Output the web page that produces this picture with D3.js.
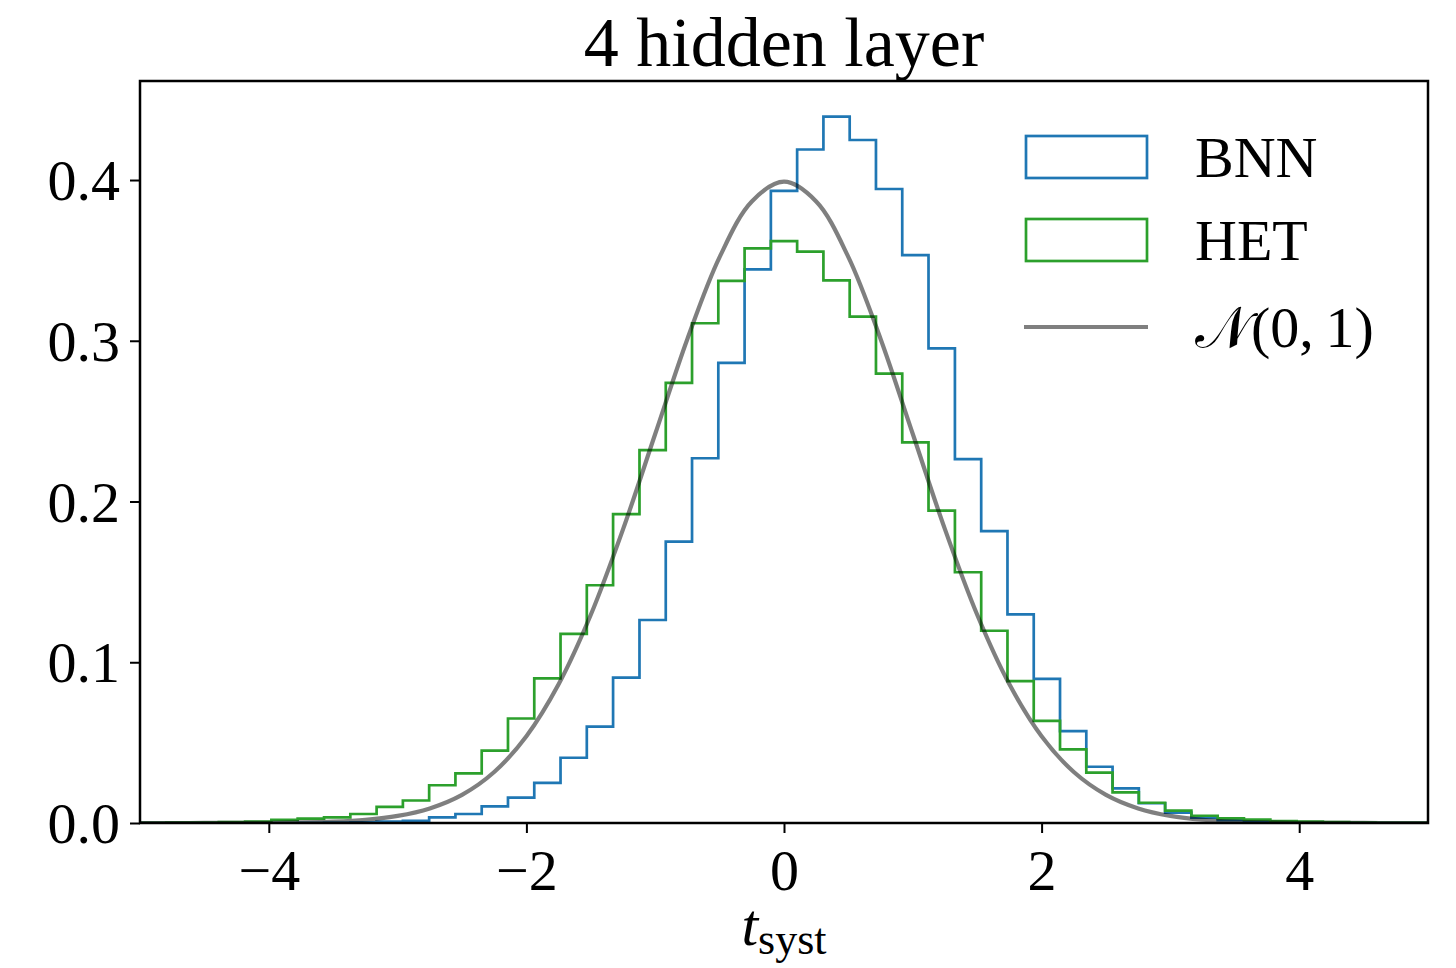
<!DOCTYPE html>
<html>
<head>
<meta charset="utf-8">
<script src="https://cdn.jsdelivr.net/npm/d3@7"></script>
<style>
  body { margin: 0; background: #fff; }
  svg text { font-family: "Liberation Serif", "DejaVu Serif", serif; fill: #000; }
</style>
</head>
<body>
<div id="chart"></div>
<script>
// bin edges of both histograms (49 bins over -5..5)
var binEdges = [-5.000, -4.796, -4.592, -4.388, -4.184, -3.980, -3.776, -3.571, -3.367, -3.163,
    -2.959, -2.755, -2.551, -2.347, -2.143, -1.939, -1.735, -1.531, -1.327, -1.122,
    -0.918, -0.714, -0.510, -0.306, -0.102, 0.102, 0.306, 0.510, 0.714, 0.918,
    1.122, 1.327, 1.531, 1.735, 1.939, 2.143, 2.347, 2.551, 2.755, 2.959,
    3.163, 3.367, 3.571, 3.776, 3.980, 4.184, 4.388, 4.592, 4.796, 5.000];

// density per bin
var bnnValues = [0, 0, 0, 0, 0, 0, 0.0001, 0.0002, 0.0004, 0.0008,
    0.0014, 0.0035, 0.0056, 0.0104, 0.0158, 0.0249, 0.0406, 0.0599, 0.0904, 0.1263,
    0.1750, 0.2269, 0.2863, 0.3444, 0.3933, 0.4190, 0.4394, 0.4249, 0.3944, 0.3533,
    0.2953, 0.2264, 0.1816, 0.1298, 0.0896, 0.0572, 0.0350, 0.0216, 0.0123, 0.0064,
    0.0033, 0.0018, 0.0010, 0.0005, 0.0002, 0.0001, 0, 0, 0];

var hetValues = [0.0001, 0.0002, 0.0003, 0.0005, 0.0008, 0.0019, 0.0027, 0.0035, 0.0056, 0.0100,
    0.0140, 0.0235, 0.0309, 0.0450, 0.0650, 0.0900, 0.1176, 0.1479, 0.1922, 0.2320,
    0.2738, 0.3109, 0.3372, 0.3575, 0.3620, 0.3554, 0.3376, 0.3150, 0.2795, 0.2368,
    0.1943, 0.1560, 0.1196, 0.0883, 0.0635, 0.0458, 0.0313, 0.0191, 0.0126, 0.0077,
    0.0045, 0.0029, 0.0021, 0.0012, 0.0008, 0.0005, 0.0002, 0.0001, 0.0001];

// N(0,1) reference curve
var normX = [-5, -4.75, -4.5, -4.25, -4, -3.75, -3.5, -3.25, -3, -2.75,
    -2.5, -2.25, -2, -1.75, -1.5, -1.25, -1, -0.75, -0.5, -0.25,
    0, 0.25, 0.5, 0.75, 1, 1.25, 1.5, 1.75, 2, 2.25,
    2.5, 2.75, 3, 3.25, 3.5, 3.75, 4, 4.25, 4.5, 4.75, 5];
var normY = [0, 0, 0.00002, 0.00005, 0.00013, 0.00035, 0.00087, 0.00203, 0.00443, 0.00909,
    0.01753, 0.03174, 0.05399, 0.08628, 0.12952, 0.18265, 0.24197, 0.30114, 0.35207, 0.38667,
    0.39894, 0.38667, 0.35207, 0.30114, 0.24197, 0.18265, 0.12952, 0.08628, 0.05399, 0.03174,
    0.01753, 0.00909, 0.00443, 0.00203, 0.00087, 0.00035, 0.00013, 0.00005, 0.00002, 0, 0];

var xTicks = [-4, -2, 0, 2, 4];
var yTicks = [0.0, 0.1, 0.2, 0.3, 0.4];

var legendLabels = ["BNN", "HET", "\u{1D4A9}(0,\u20091)"];

var svgWidth = 1456;
var svgHeight = 968;

var margin = { top: 81, right: 28, bottom: 145, left: 140 };
var width = svgWidth - margin.left - margin.right;
var height = svgHeight - margin.top - margin.bottom;

var svg = d3.select("#chart")
    .append("svg")
    .attr("width", svgWidth)
    .attr("height", svgHeight);

var chartGroup = svg.append("g")
    .attr("transform", `translate(${margin.left}, ${margin.top})`);

var xScale = d3.scaleLinear().domain([-5, 5]).range([0, width]);
var yScale = d3.scaleLinear().domain([0, 0.4616]).range([height, 0]);

svg.append("clipPath").attr("id", "plotclip")
    .append("rect").attr("width", width).attr("height", height);

// step outline like histtype='step'
function stepPath(values) {
    var pts = [[binEdges[0], 0]];
    values.forEach(function (v, i) {
        pts.push([binEdges[i], v]);
        pts.push([binEdges[i + 1], v]);
    });
    pts.push([binEdges[binEdges.length - 1], 0]);
    return d3.line()
        .x(d => xScale(d[0]))
        .y(d => yScale(d[1]))(pts);
}

var plot = chartGroup.append("g").attr("clip-path", "url(#plotclip)");

plot.append("path")
    .attr("d", stepPath(bnnValues))
    .attr("fill", "none")
    .attr("stroke", "#1f77b4")
    .attr("stroke-width", 2.7);

plot.append("path")
    .attr("d", stepPath(hetValues))
    .attr("fill", "none")
    .attr("stroke", "#2ca02c")
    .attr("stroke-width", 2.7);

var normLine = d3.line()
    .x((d, i) => xScale(normX[i]))
    .y(d => yScale(d))
    .curve(d3.curveCatmullRom);

plot.append("path")
    .attr("d", normLine(normY))
    .attr("fill", "none")
    .attr("stroke", "#000")
    .attr("stroke-opacity", 0.5)
    .attr("stroke-width", 4.2);

// axes
var bottomAxis = d3.axisBottom(xScale)
    .tickValues(xTicks)
    .tickSize(10)
    .tickPadding(8)
    .tickFormat(d => d < 0 ? "\u2212" + Math.abs(d) : d);

var leftAxis = d3.axisLeft(yScale)
    .tickValues(yTicks)
    .tickSize(10)
    .tickPadding(10)
    .tickFormat(d3.format(".1f"));

var xAxis = chartGroup.append("g")
    .attr("transform", `translate(0, ${height})`)
    .call(bottomAxis);

var yAxis = chartGroup.append("g")
    .call(leftAxis);

[xAxis, yAxis].forEach(function (ax) {
    ax.select(".domain").remove();
    ax.selectAll(".tick line").attr("stroke", "#000").attr("stroke-width", 2);
    ax.selectAll(".tick text")
        .style("font-family", "Liberation Serif, serif")
        .style("font-size", "58px");
});
xAxis.selectAll(".tick text").attr("dy", "0.85em");
yAxis.selectAll(".tick text").attr("dy", "0.34em");

// frame
chartGroup.append("rect")
    .attr("width", width)
    .attr("height", height)
    .attr("fill", "none")
    .attr("stroke", "#000")
    .attr("stroke-width", 2.5);

// title
svg.append("text")
    .attr("x", margin.left + width / 2)
    .attr("y", 66)
    .attr("text-anchor", "middle")
    .style("font-size", "70px")
    .text("4 hidden layer");

// x label
var xlab = svg.append("text")
    .attr("x", margin.left + width / 2)
    .attr("y", 945)
    .attr("text-anchor", "middle")
    .style("font-size", "60px");
xlab.append("tspan").style("font-style", "italic").text("t");
xlab.append("tspan").attr("dy", 9).style("font-size", "44px").text("syst");

// legend
var legend = svg.append("g");
var legendColors = ["#1f77b4", "#2ca02c", "#808080"];
var legendY = [157, 240, 327];
legendLabels.forEach(function (lab, i) {
    if (i < 2) {
        legend.append("rect")
            .attr("x", 1026)
            .attr("y", legendY[i] - 21)
            .attr("width", 121)
            .attr("height", 42)
            .attr("fill", "none")
            .attr("stroke", legendColors[i])
            .attr("stroke-width", 2.7);
    } else {
        legend.append("line")
            .attr("x1", 1024).attr("x2", 1148)
            .attr("y1", legendY[i]).attr("y2", legendY[i])
            .attr("stroke", "#000")
            .attr("stroke-opacity", 0.5)
            .attr("stroke-width", 4.2);
    }
    legend.append("text")
        .attr("x", 1195)
        .attr("y", legendY[i] + 20)
        .style("font-size", "58px")
        .text(lab);
});
</script>
</body>
</html>
